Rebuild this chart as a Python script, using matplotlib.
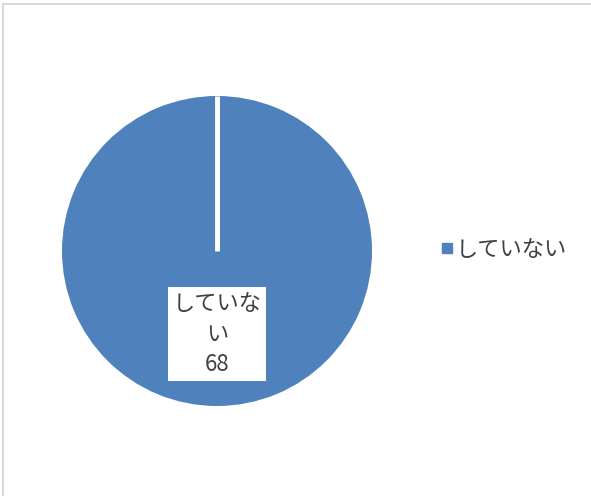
import numpy as np
import matplotlib.pyplot as plt
from matplotlib.patches import Rectangle
from matplotlib.lines import Line2D

plt.rcParams['font.family'] = ['Noto Sans CJK JP', 'DejaVu Sans']

labels = ['していない']
values = [68]
colors = ['#4F81BD']
start = 90

W, H = 591, 496
fig = plt.figure(figsize=(W / 100, H / 100), dpi=100)

# chart area border (cut off at right / bottom)
fig.patches.append(Rectangle((3 / W, -0.05), 1.1, 1 - 4 / H + 0.05,
                             transform=fig.transFigure, fill=False,
                             edgecolor='#D9D9D9', linewidth=1.5))

ax = fig.add_axes([62 / W, 90 / H, 310 / W, 310 / H])
ax.pie(values, colors=colors, startangle=start, counterclock=False,
       wedgeprops=dict(edgecolor='none', linewidth=0))
# slice border (single slice -> only the radial edge is visible)
a = np.deg2rad(start)
ax.plot([0, np.cos(a)], [0, np.sin(a)], color='white', linewidth=3.5,
        solid_capstyle='butt')
ax.set_xlim(-1.0, 1.0)
ax.set_ylim(-1.0, 1.0)
ax.set_aspect('equal')
ax.axis('off')

ax.text(0, -0.535, 'していな\nい\n' + str(values[0]), ha='center', va='center',
        fontsize=16, color='#404040', linespacing=1.4,
        bbox=dict(boxstyle='square,pad=0.22', facecolor='white', edgecolor='none'))

handles = [Line2D([], [], marker='s', linestyle='none', markersize=7,
                  markerfacecolor=colors[0], markeredgecolor=colors[0])]
fig.legend(handles, labels, loc='center left', bbox_to_anchor=(416 / W, 1 - 249 / H),
           frameon=False, fontsize=16, handletextpad=-0.1, handlelength=1.0,
           labelcolor='#404040')

fig.savefig('out.png', dpi=100)
